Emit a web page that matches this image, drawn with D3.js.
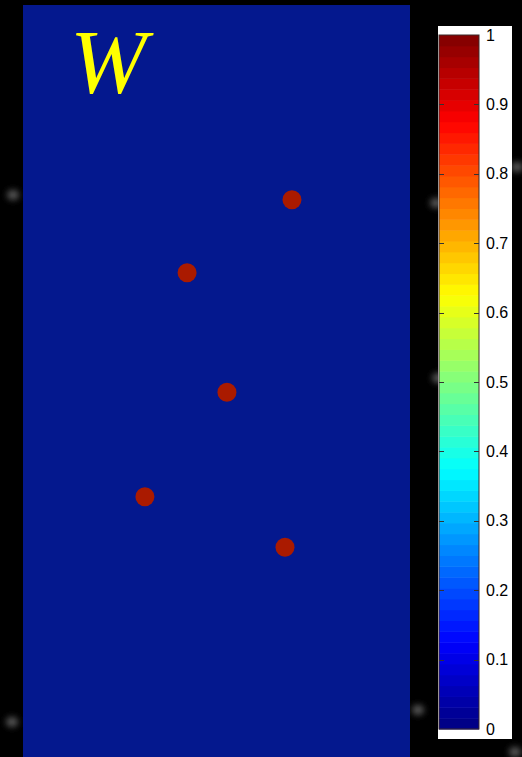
<!DOCTYPE html>
<html>
<head>
<meta charset="utf-8">
<script src="https://cdn.jsdelivr.net/npm/d3@7"></script>
<style>
  html, body { margin: 0; padding: 0; background: #000; }
  svg { display: block; }
</style>
</head>
<body>
<div id="figure-container"></div>
<script>
// points in panel units (x: 0..1 left->right, y: 0..1 top->bottom)
var pointX = [0.695, 0.424, 0.527, 0.315, 0.677];
var pointY = [0.259, 0.356, 0.515, 0.654, 0.721];
var cbTicks = [0, 0.1, 0.2, 0.3, 0.4, 0.5, 0.6, 0.7, 0.8, 0.9, 1];
var title = 'W';
// faint blurry specks on the black surround (page px)
var speckX = [13, 12, 436, 438, 517, 418, 515];
var speckY = [195, 722, 203, 378, 167, 710, 752];

var fullWidth = 522, fullHeight = 757;
var panel = {left: 23, top: 5, width: 387, height: 752};
var cb = {left: 439, top: 35, width: 40, height: 694};

// matlab jet, 64 levels
function jet(v) {
  var n = 64;
  var i = Math.min(n - 1, Math.max(0, Math.floor(v * n)));
  var t = (i + 0.5) / n * 4;
  function c(x) { return Math.max(0, Math.min(1, x)); }
  var r = c(Math.min(t - 1.5, -t + 4.5));
  var g = c(Math.min(t - 0.5, -t + 3.5));
  var b = c(Math.min(t + 0.5, -t + 2.5));
  return d3.rgb(r * 255, g * 255, b * 255).toString();
}

var svg = d3.select('#figure-container')
  .append('svg')
  .attr('width', fullWidth)
  .attr('height', fullHeight);

svg.append('rect')
  .attr('width', fullWidth)
  .attr('height', fullHeight)
  .attr('fill', '#000');

var defs = svg.append('defs');
defs.append('filter')
  .attr('id', 'blur')
  .attr('x', '-100%').attr('y', '-100%')
  .attr('width', '300%').attr('height', '300%')
  .append('feGaussianBlur')
  .attr('stdDeviation', 3);

svg.append('g')
  .selectAll('ellipse')
  .data(speckX)
  .enter()
    .append('ellipse')
    .attr('cx', function(d) { return d; })
    .attr('cy', function(d, i) { return speckY[i]; })
    .attr('rx', 6)
    .attr('ry', 5)
    .attr('fill', '#5a5a5a')
    .attr('filter', 'url(#blur)');

var xScale = d3.scaleLinear().domain([0, 1]).range([panel.left, panel.left + panel.width]);
var yScale = d3.scaleLinear().domain([0, 1]).range([panel.top, panel.top + panel.height]);

svg.append('rect')
  .attr('x', panel.left)
  .attr('y', panel.top)
  .attr('width', panel.width)
  .attr('height', panel.height)
  .attr('fill', '#04188e');

svg.append('g')
  .selectAll('circle')
  .data(pointX)
  .enter()
    .append('circle')
    .attr('cx', function(d) { return xScale(d); })
    .attr('cy', function(d, i) { return yScale(pointY[i]); })
    .attr('r', 9.5)
    .attr('fill', '#aa1a00');

svg.append('text')
  .attr('x', 70)
  .attr('y', 93)
  .attr('font-family', '"Liberation Serif", "Times New Roman", serif')
  .attr('font-style', 'italic')
  .attr('font-size', '92px')
  .attr('fill', '#ffff00')
  .text(title);

// colorbar
svg.append('rect')
  .attr('x', 438)
  .attr('y', 26)
  .attr('width', 74)
  .attr('height', 713)
  .attr('fill', '#fff');

var cScale = d3.scaleLinear().domain([0, 1]).range([cb.top + cb.height, cb.top]);
var levels = d3.range(64);
svg.append('g')
  .selectAll('rect')
  .data(levels)
  .enter()
    .append('rect')
    .attr('x', cb.left)
    .attr('y', function(d) { return cScale((d + 1) / 64); })
    .attr('width', cb.width)
    .attr('height', function(d) { return cScale(d / 64) - cScale((d + 1) / 64) + 0.5; })
    .attr('fill', function(d) { return jet((d + 0.5) / 64); });

svg.append('rect')
  .attr('x', cb.left)
  .attr('y', cb.top)
  .attr('width', cb.width)
  .attr('height', cb.height)
  .attr('fill', 'none')
  .attr('stroke', '#3a2a2a')
  .attr('stroke-width', 1);

var cAxis = d3.axisRight(cScale)
  .tickValues(cbTicks)
  .tickFormat(function(d) { return d3.format('')(d); })
  .tickSize(0)
  .tickPadding(7);

var axisG = svg.append('g')
  .attr('transform', `translate(${cb.left + cb.width},0)`)
  .call(cAxis);
axisG.select('.domain').remove();
axisG.selectAll('text')
  .attr('font-family', '"Liberation Sans", Arial, sans-serif')
  .attr('font-size', '16px')
  .attr('fill', '#000');

// inner tick marks on both sides
var inner = svg.append('g').attr('stroke', '#333').attr('stroke-width', 1);
cbTicks.slice(1, -1).forEach(function(t) {
  var y = Math.round(cScale(t)) + 0.5;
  inner.append('line').attr('x1', cb.left).attr('x2', cb.left + 5).attr('y1', y).attr('y2', y);
  inner.append('line').attr('x1', cb.left + cb.width - 5).attr('x2', cb.left + cb.width).attr('y1', y).attr('y2', y);
});
</script>
</body>
</html>
